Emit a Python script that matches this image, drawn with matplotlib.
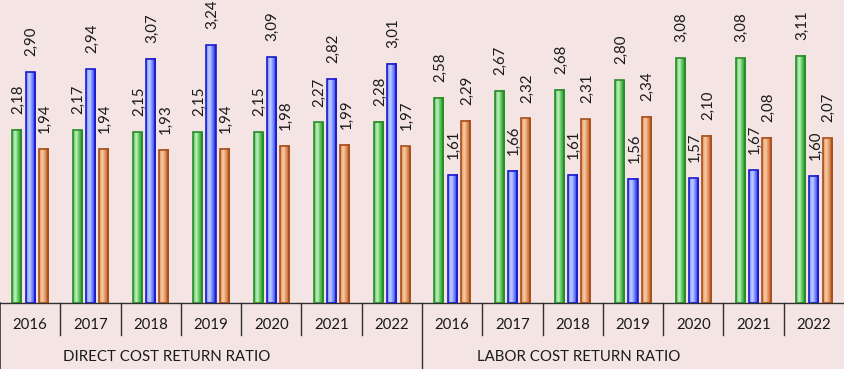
import matplotlib
matplotlib.use("Agg")
import matplotlib.pyplot as plt
import matplotlib.transforms as mtransforms
from matplotlib.colors import LinearSegmentedColormap
import numpy as np

plt.rcParams['font.family'] = ['Lato', 'DejaVu Sans']

years = ["2016", "2017", "2018", "2019", "2020", "2021", "2022"]
groups = ["DIRECT COST RETURN RATIO", "LABOR COST RETURN RATIO"]

green_vals = [2.18, 2.17, 2.15, 2.15, 2.15, 2.27, 2.28,
              2.58, 2.67, 2.68, 2.80, 3.08, 3.08, 3.11]
blue_vals = [2.90, 2.94, 3.07, 3.24, 3.09, 2.82, 3.01,
             1.61, 1.66, 1.61, 1.56, 1.57, 1.67, 1.60]
orange_vals = [1.94, 1.94, 1.93, 1.94, 1.98, 1.99, 1.97,
               2.29, 2.32, 2.31, 2.34, 2.10, 2.08, 2.07]

bg = "#f4e4e4"
# (edge, mid, light)
series = [
    (green_vals, ("#2a8a2a", "#4cbf4c", "#c8f2c8")),
    (blue_vals, ("#1a1acc", "#6a80ff", "#c8d4ff")),
    (orange_vals, ("#a84f1c", "#dc8a55", "#fad0aa")),
]

fig = plt.figure(figsize=(8.44, 3.69), dpi=100, facecolor=bg)
ax = fig.add_axes([0, 66 / 369, 1, 303 / 369])
ax.set_facecolor(bg)

n = len(years) * len(groups)
x = np.arange(n)
width = 0.15
offsets = [-0.22, 0.0, 0.22]
ymax = 3.81

def cyl_bar(ax, xc, h, cols):
    edge, mid, light = cols
    cmap = LinearSegmentedColormap.from_list("c", [mid, light, mid, edge])
    grad = np.linspace(0, 1, 64).reshape(1, -1)
    ax.imshow(grad, cmap=cmap, extent=(xc - width / 2, xc + width / 2, 0, h),
              aspect="auto", interpolation="bicubic", zorder=2)
    ax.add_patch(plt.Rectangle((xc - width / 2, 0), width, h, fill=False,
                               edgecolor=edge, linewidth=1.2, zorder=3))

for (vals, cols), off in zip(series, offsets):
    for xi, v in zip(x, vals):
        cyl_bar(ax, xi + off, v, cols)
        ax.annotate(f"{v:.2f}".replace(".", ","), (xi + off, v),
                    xytext=(1, 11.5), textcoords="offset points",
                    rotation=90, ha="center", va="bottom",
                    fontsize=10.8, color="#1a1a1a")

ax.set_xlim(-0.5, n - 0.5)
ax.set_ylim(0, ymax)
ax.set_xticks([])
ax.set_yticks([])
for s in ["top", "right", "left"]:
    ax.spines[s].set_visible(False)
ax.spines["bottom"].set_color("#303030")
ax.spines["bottom"].set_linewidth(1.0)

# category table below the axis
trans = mtransforms.blended_transform_factory(ax.transData, ax.transAxes)
yr_h = -32 / 303
full_h = -66 / 303
ax.plot([-0.5, -0.5], [0, full_h], color="#303030", lw=1.2,
        transform=trans, clip_on=False)
for i in range(1, n):
    bottom = full_h if i % len(years) == 0 else yr_h
    ax.plot([i - 0.5, i - 0.5], [0, bottom], color="#303030", lw=1.0,
            transform=trans, clip_on=False)
for i in range(n):
    ax.text(i, -22 / 303, years[i % len(years)], transform=trans,
            ha="center", va="center", fontsize=10.8, color="#1a1a1a")
for gi, g in enumerate(groups):
    start = gi * len(years) - 0.5
    shift = 1.045 if gi == 0 else 0.91
    ax.text(start + shift, -54 / 303, g, transform=trans,
            ha="left", va="center", fontsize=10.8, color="#1a1a1a")

fig.savefig("out.png", dpi=100, facecolor=bg)
